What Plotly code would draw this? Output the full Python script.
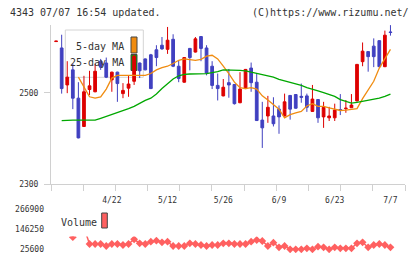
import plotly.graph_objects as go

# ---------------- data ----------------
opens = [2612, 2598, 2517, 2550, 2488, 2426, 2507, 2502, 2569, 2565,
         2528, 2545, 2498, 2510, 2525, 2565, 2574, 2583, 2594, 2604,
         2595, 2617, 2558, 2523, 2597, 2589, 2623, 2598, 2558, 2516,
         2493, 2522, 2518, 2478, 2509, 2554, 2523, 2440, 2449, 2449,
         2464, 2449, 2494, 2496, 2492, 2493, 2459, 2485, 2447, 2445,
         2445, 2463, 2465, 2467, 2482, 2568, 2590, 2602, 2614, 2557, 2633]
highs = [2613, 2627, 2569, 2563, 2523, 2537, 2548, 2563, 2574, 2577,
         2546, 2546, 2521, 2537, 2583, 2566, 2575, 2585, 2604, 2622,
         2644, 2628, 2571, 2578, 2598, 2622, 2624, 2604, 2569, 2542,
         2530, 2552, 2519, 2545, 2552, 2566, 2541, 2480, 2493, 2490,
         2472, 2498, 2495, 2497, 2520, 2498, 2517, 2486, 2480, 2469,
         2476, 2497, 2484, 2497, 2563, 2610, 2591, 2619, 2615, 2636, 2648]
lows = [2612, 2498, 2499, 2464, 2400, 2425, 2495, 2501, 2550, 2532,
        2502, 2480, 2488, 2491, 2517, 2532, 2549, 2508, 2558, 2594,
        2585, 2556, 2523, 2522, 2549, 2588, 2569, 2538, 2508, 2483,
        2492, 2489, 2474, 2477, 2508, 2502, 2438, 2379, 2434, 2426,
        2410, 2448, 2441, 2465, 2478, 2458, 2458, 2434, 2423, 2438,
        2438, 2451, 2456, 2467, 2481, 2558, 2546, 2556, 2556, 2556, 2625]
closes = [2613, 2509, 2534, 2488, 2401, 2502, 2515, 2547, 2556, 2534,
          2545, 2520, 2505, 2519, 2580, 2548, 2550, 2509, 2577, 2596,
          2615, 2558, 2531, 2577, 2577, 2618, 2597, 2543, 2516, 2509,
          2512, 2517, 2476, 2508, 2551, 2522, 2439, 2423, 2468, 2432,
          2447, 2480, 2464, 2466, 2490, 2468, 2486, 2445, 2468, 2449,
          2462, 2462, 2466, 2473, 2562, 2591, 2579, 2579, 2557, 2626, 2632]

ma5 = [None, None, None, None, 2534, 2512, 2491, 2488, 2491, 2508,
       2532, 2538, 2538, 2537, 2537, 2537, 2538, 2542, 2550, 2555,
       2558, 2564, 2571, 2574, 2573, 2571, 2573, 2580, 2582, 2574,
       2558, 2542, 2523, 2511, 2509, 2511, 2508, 2493, 2484, 2474,
       2464, 2445, 2452, 2456, 2459, 2471, 2476, 2470, 2470, 2467,
       2464, 2461, 2462, 2463, 2465, 2487, 2505, 2525, 2554, 2573, 2595]
ma25 = [None, 2439, 2440, 2440, 2440, 2440, 2440, 2440, 2444, 2448,
        2452, 2457, 2460, 2465, 2470, 2477, 2483, 2488, 2497, 2509,
        2520, 2530, 2537, 2540, 2541, 2541, 2541, 2542, 2544, 2546,
        2550, 2550, 2549, 2549, 2548, 2545, 2543, 2539, 2537, 2534,
        2529, 2526, 2522, 2519, 2516, 2511, 2508, 2504, 2500, 2496,
        2492, 2485, 2481, 2477, 2479, 2481, 2483, 2485, 2488, 2492, 2497]
volume = [180000, 210000, 150000, 98000, 170000, 156000, 57300, 57300, 57300, 45400,
          57300, 57300, 51300, 57300, 85500, 61500, 57300, 71100, 77100, 67500,
          71100, 45400, 45400, 45400, 61500, 57300, 51300, 45400, 51300, 51300,
          61500, 61500, 57300, 57300, 57300, 71100, 81300, 75300, 45400, 65100,
          37600, 45400, 25600, 25600, 25600, 31600, 25600, 41200, 37600, 25600,
          37600, 31600, 31600, 31600, 61500, 67500, 37600, 51300, 57300, 51300, 37600]

date_labels = ["4/22", "5/12", "5/26", "6/9", "6/23", "7/7"]
date_label_idx = [10, 20, 30, 40, 50, 60]
price_ticks = [2300, 2500]
volume_ticks = [25600, 146250, 266900]

idx = list(range(len(closes)))

# ---------------- style ----------------
W, H = 420, 259
ML, MR, MT, MB = 51, 15, 25, 0
PW = W - ML - MR
PH = H - MT - MB
def px_x(px):
    return (px - ML) / PW
def px_y(py):
    return (H - MB - py) / PH

RED = "#dd0000"
BLUE = "#4040c0"
ORANGE = "#f08c10"
GREEN = "#00a800"
VOLC = "#ff6060"
AXC = "#d0d0d0"
TXT = "#333333"
MONO = "DejaVu Sans Mono"

xr = [-0.915, 62.61]
yr_price = [2300, 2648.3]

fig = go.Figure()
fig.add_trace(go.Candlestick(
    x=idx, open=opens, high=highs, low=lows, close=closes,
    increasing=dict(line=dict(color=RED, width=1), fillcolor=RED),
    decreasing=dict(line=dict(color=BLUE, width=1), fillcolor=BLUE),
    whiskerwidth=0, showlegend=False, hoverinfo="skip",
    xaxis="x", yaxis="y"))
fig.add_trace(go.Scatter(x=idx, y=ma5, mode="lines", line=dict(color=ORANGE, width=1.3),
                         showlegend=False, hoverinfo="skip", xaxis="x", yaxis="y"))
fig.add_trace(go.Scatter(x=idx, y=ma25, mode="lines", line=dict(color=GREEN, width=1.3),
                         showlegend=False, hoverinfo="skip", xaxis="x", yaxis="y"))
# label axis for volume (no data)
fig.add_trace(go.Scatter(x=[None], y=[None], mode="lines", showlegend=False,
                         hoverinfo="skip", xaxis="x", yaxis="y3"))
fig.add_trace(go.Scatter(x=idx, y=volume, mode="lines+markers",
                         line=dict(color=VOLC, width=1.5),
                         marker=dict(symbol="diamond", size=6, color=VOLC),
                         showlegend=False, hoverinfo="skip", xaxis="x", yaxis="y4"))

n_minor = 12
minor_vals = [xr[0] + k * (xr[1] - xr[0]) / (n_minor - 1) for k in range(n_minor)]

# volume scale: 25600 at y=249.3px, 266900 at y=209px
vpp = (266900 - 25600) / (249.3 - 209.0)
def v_at(py):
    return 25600 + (249.3 - py) * vpp
v3_top_px, v3_bot_px = 205.0, 253.0
v4_top_px = 236.5

fig.update_layout(
    template="none",
    width=W, height=H,
    margin=dict(l=ML, r=MR, t=MT, b=MB, pad=0, autoexpand=False),
    paper_bgcolor="white", plot_bgcolor="white",
    boxgap=0.3,
    xaxis=dict(range=xr, domain=[0, 1], anchor="y", automargin=False,
               showline=True, linecolor=AXC, linewidth=1,
               showgrid=False, zeroline=False,
               tickmode="array", tickvals=date_label_idx, ticktext=date_labels,
               ticks="", ticklen=0,
               tickfont=dict(family=MONO, size=8, color=TXT),
               ticklabelstandoff=8,
               minor=dict(tickmode="array", tickvals=minor_vals, ticks="outside",
                          ticklen=6, tickcolor=AXC, tickwidth=1, showgrid=False),
               rangeslider=dict(visible=False), fixedrange=True),
    yaxis=dict(range=yr_price, domain=[px_y(184), 1], anchor="x", automargin=False,
               showline=True, linecolor=AXC, linewidth=1,
               showgrid=False, zeroline=False,
               tickmode="array", tickvals=price_ticks,
               ticktext=[str(v) for v in price_ticks],
               ticks="outside", ticklen=6, tickcolor=AXC,
               tickfont=dict(family=MONO, size=8, color=TXT),
               ticklabelstandoff=4, fixedrange=True),
    yaxis3=dict(range=[v_at(v3_bot_px), v_at(v3_top_px)],
                domain=[px_y(v3_bot_px), px_y(v3_top_px)], anchor="x", automargin=False,
                showline=False, showgrid=False, zeroline=False,
                tickmode="array", tickvals=volume_ticks,
                ticktext=[str(v) for v in volume_ticks], ticks="",
                tickfont=dict(family=MONO, size=8, color=TXT),
                ticklabelstandoff=6, fixedrange=True),
    yaxis4=dict(range=[v_at(v3_bot_px), v_at(v4_top_px)],
                domain=[px_y(v3_bot_px), px_y(v4_top_px)], anchor="x", automargin=False,
                visible=False, fixedrange=True),
    showlegend=False,
)

shapes = [
    dict(type="rect", xref="paper", yref="paper", layer="below",
         x0=px_x(65.3), x1=px_x(143.3), y0=px_y(77.3), y1=px_y(30),
         line=dict(color="#d4d4d4", width=1), fillcolor="white"),
    dict(type="rect", xref="paper", yref="paper", layer="below",
         x0=px_x(131), x1=px_x(137), y0=px_y(53), y1=px_y(37),
         line=dict(color="#444444", width=1), fillcolor=ORANGE),
    dict(type="rect", xref="paper", yref="paper", layer="below",
         x0=px_x(131), x1=px_x(137), y0=px_y(70.5), y1=px_y(54.5),
         line=dict(color="#444444", width=1), fillcolor=GREEN),
    dict(type="rect", xref="paper", yref="paper", layer="above",
         x0=px_x(101.7), x1=px_x(107.3), y0=px_y(228), y1=px_y(213),
         line=dict(color="#444444", width=1), fillcolor=VOLC),
]
fig.update_layout(shapes=shapes)

def ann(text, px, py, anchor, size=10):
    return dict(text=text, xref="paper", yref="paper", x=px_x(px), y=px_y(py),
                xanchor=anchor, yanchor="middle", showarrow=False,
                font=dict(family=MONO, size=size, color=TXT))

fig.update_layout(annotations=[
    ann("4343 07/07 16:54 updated.", 8, 12.5, "left"),
    ann("(C)https://www.rizumu.net/", 411, 12.5, "right"),
    ann("5-day MA", 125.5, 46, "right"),
    ann("25-day MA", 125.5, 62.7, "right"),
    ann("Volume", 58.5, 222.3, "left"),
])

fig.write_html("out.html")
